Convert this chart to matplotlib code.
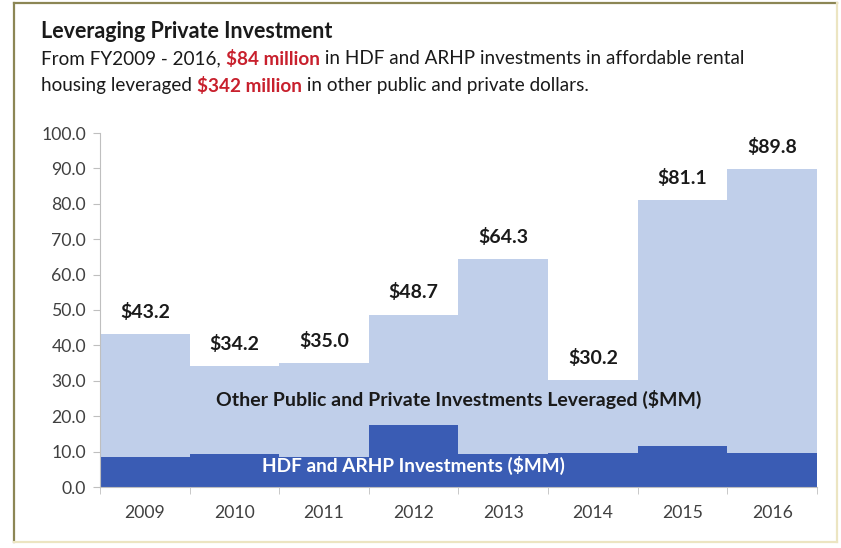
import matplotlib.pyplot as plt
from matplotlib.lines import Line2D
import numpy as np

plt.rcParams['font.family'] = ['Lato', 'DejaVu Sans']

years = ['2009', '2010', '2011', '2012', '2013', '2014', '2015', '2016']
totals = [43.2, 34.2, 35.0, 48.7, 64.3, 30.2, 81.1, 89.8]
hdf_arhp = [8.6, 9.2, 8.4, 17.4, 9.2, 9.7, 11.7, 9.7]
leveraged = [t - h for t, h in zip(totals, hdf_arhp)]

dark_blue = '#3a5cb4'
light_blue = '#c0cfea'
red = '#c8202d'
text_dark = '#1a1a1a'

fig = plt.figure(figsize=(8.41, 5.48), dpi=100)
ax = fig.add_axes([100 / 841, 1 - 487 / 548, 717 / 841, 354 / 548])

x = np.arange(len(years))
ax.bar(x, hdf_arhp, width=1.0, color=dark_blue, linewidth=0)
ax.bar(x, leveraged, width=1.0, bottom=hdf_arhp, color=light_blue, linewidth=0)

# value labels above each column
for xi, t in zip(x, totals):
    ax.annotate(f'${t:.1f}', (xi, t), xytext=(0, 16), textcoords='offset points',
                ha='center', va='center', fontsize=14, fontweight='bold', color=text_dark)

ax.text(3.5, 24.6, 'Other Public and Private Investments Leveraged ($MM)',
        ha='center', va='center', fontsize=14, fontweight='bold', color=text_dark)
ax.text(3.0, 6.2, 'HDF and ARHP Investments ($MM)',
        ha='center', va='center', fontsize=13.7, fontweight='bold', color='white')

ax.set_xlim(-0.5, 7.5)
ax.set_ylim(0, 100)
ax.set_yticks(np.arange(0, 101, 10))
ax.set_yticklabels([f'{v:.1f}' for v in np.arange(0, 101, 10)])
ax.set_xticks(x)
ax.set_xticklabels(years)
ax.set_xticks(np.arange(-0.5, 8, 1), minor=True)
ax.tick_params(axis='x', which='major', length=0, pad=13, labelsize=12.7, labelcolor='#404040')
ax.tick_params(axis='x', which='minor', length=5, color='#bfbfbf')
ax.tick_params(axis='y', length=5, color='#bfbfbf', labelsize=12.7, labelcolor='#404040', pad=5)
for s in ['top', 'right']:
    ax.spines[s].set_visible(False)
for s in ['left', 'bottom']:
    ax.spines[s].set_color('#bfbfbf')

# title and subtitle
fig.text(41 / 841, 1 - 32 / 548, 'Leveraging Private Investment', fontsize=15.5,
         fontweight='bold', color=text_dark, va='center')


def rich_line(x0, y0, parts):
    renderer = fig.canvas.get_renderer()
    xpos = x0
    for s, color, weight in parts:
        t = fig.text(xpos, y0, s, fontsize=13.6, color=color, fontweight=weight, va='center')
        bb = t.get_window_extent(renderer=renderer)
        xpos += bb.width / fig.bbox.width


rich_line(41 / 841, 1 - 59 / 548, [
    ('From FY2009 - 2016, ', text_dark, 'normal'),
    ('$84 million', red, 'bold'),
    (' in HDF and ARHP investments in affordable rental', text_dark, 'normal'),
])
rich_line(41 / 841, 1 - 86 / 548, [
    ('housing leveraged ', text_dark, 'normal'),
    ('$342 million', red, 'bold'),
    (' in other public and private dollars.', text_dark, 'normal'),
])

# frame around the panel
W, H = 841, 548
fig.add_artist(Line2D([14 / W, 14 / W], [1 - 3 / H, 1 - 542 / H], color='#8c8655', lw=1.6))
fig.add_artist(Line2D([14 / W, 837 / W], [1 - 3 / H, 1 - 3 / H], color='#8c8655', lw=1.6))
fig.add_artist(Line2D([837 / W, 837 / W], [1 - 3 / H, 1 - 542 / H], color='#ece5c2', lw=1.6))
fig.add_artist(Line2D([14 / W, 837 / W], [1 - 542 / H, 1 - 542 / H], color='#ece5c2', lw=1.6))

fig.savefig('out.png', dpi=100)
